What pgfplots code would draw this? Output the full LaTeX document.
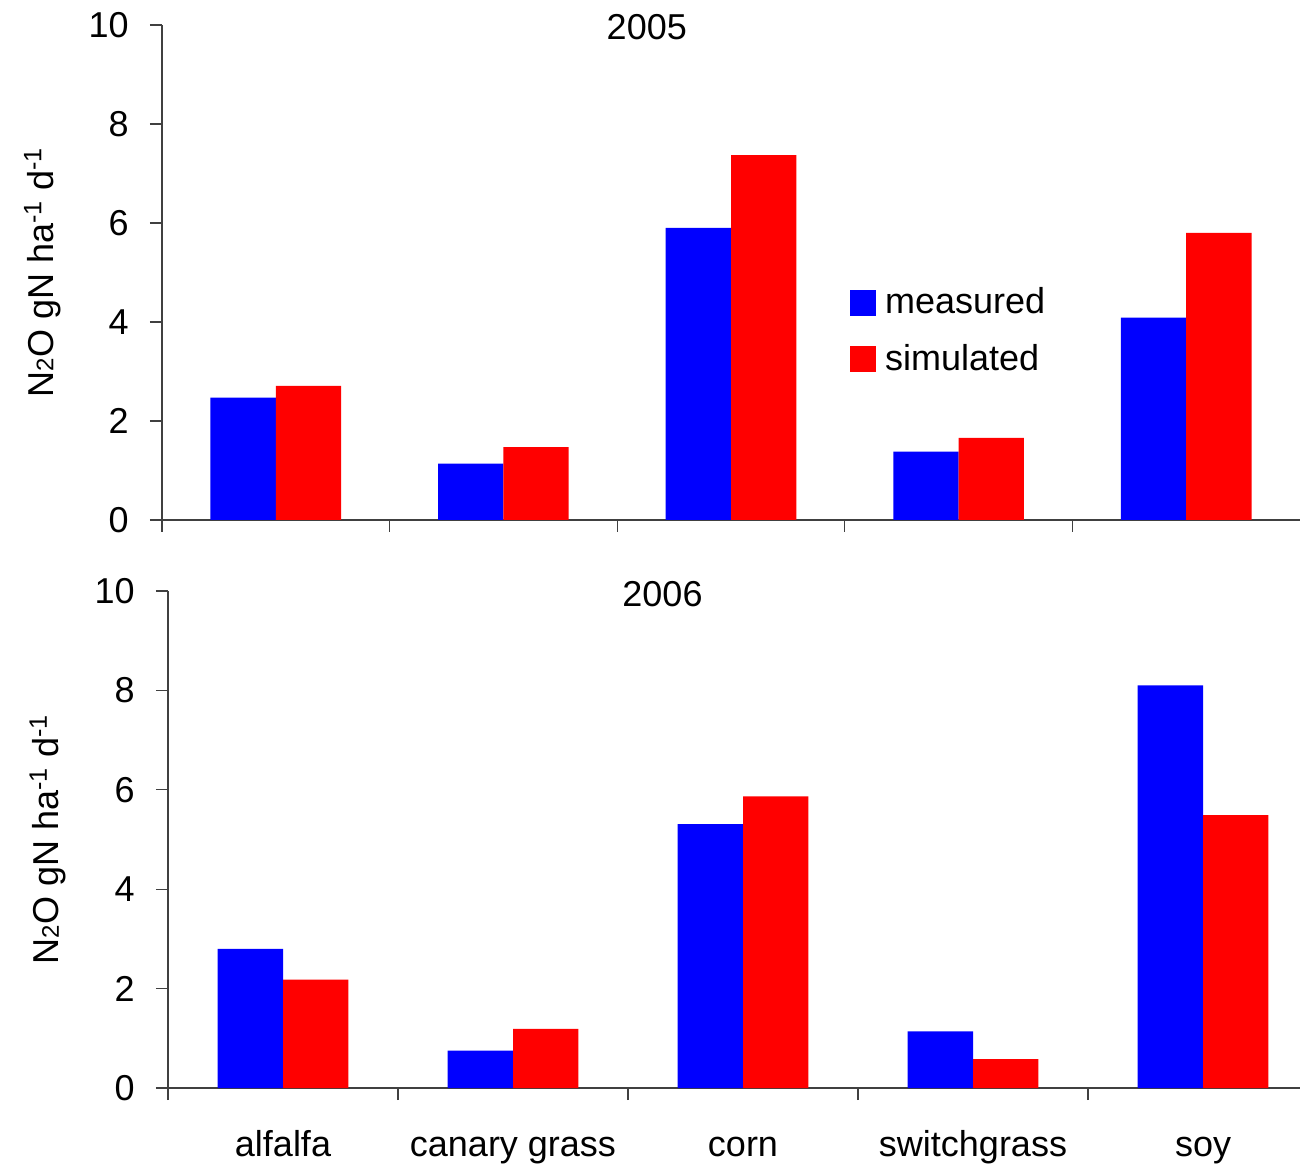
\documentclass[border=0pt]{standalone}
\usepackage{fontspec}
\setmainfont{Liberation Sans}
\usepackage{pgfplots}
\usepackage{pgfplotstable}
\pgfplotsset{compat=1.18}
\definecolor{mblue}{RGB}{0,0,255}
\definecolor{mred}{RGB}{255,0,0}
\newcommand{\bigf}{\fontsize{27}{30}\selectfont}
\pgfplotstableread{
x meas sim
0 2.47 2.71
1 1.14 1.47
2 5.90 7.37
3 1.38 1.66
4 4.09 5.80
}\tabA
\pgfplotstableread{
x meas sim
0 2.80 2.18
1 0.75 1.19
2 5.31 5.87
3 1.14 0.58
4 8.10 5.49
}\tabB
\pgfplotsset{
  panel/.style={
    scale only axis,
    ybar=0pt, bar width=49pt,
    ymin=0, ymax=10, ytick={0,2,...,10},
    xmin=-0.5,
    axis x line*=bottom, axis y line*=left,
    axis line style={black!75, line width=1pt, -},
    tick align=outside,
    major tick length=9pt, minor tick length=9pt,
    tick style={black!75, line width=1pt},
    xtick={0,1,2,3,4},
    minor xtick={-0.5,0.5,1.5,2.5,3.5},
    major x tick style={draw=none},
    ticklabel style={font=\bigf},
    yticklabel style={xshift=-12.5pt},
    xticklabel style={anchor=base, yshift=-42pt},
    /pgf/number format/assume math mode=true,
    ylabel={N{\fontsize{18}{18}\selectfont 2}O gN ha\textsuperscript{-1} d\textsuperscript{-1}},
    ylabel style={font=\bigf, at={(axis description cs:-0.105,0.5)}, anchor=center},
    clip=false,
  }
}
\begin{document}
\begin{tikzpicture}
\useasboundingbox (0,0) rectangle (975pt,873.75pt);
\begin{axis}[panel, at={(121.5pt,483.75pt)}, anchor=south west,
  width=853.5pt, height=371.25pt, xmax=4.5, xticklabels={},
  legend cell align=left,
  legend image code/.code={\fill[#1] (0pt,-8.35pt) rectangle (19.5pt,11.15pt);},
  legend style={draw=none, fill=none, at={(axis cs:2.523,4.705)}, anchor=north west,
    inner sep=0pt, outer sep=0pt, row sep=16.4pt, column sep=6.75pt, font=\bigf,
    nodes={inner sep=0pt, text height=20pt, text depth=6pt}}]
\addplot[fill=mblue, draw=none] table[x=x,y=meas]{\tabA};
\addplot[fill=mred, draw=none] table[x=x,y=sim]{\tabA};
\legend{measured, simulated}
\node[font=\bigf] at (axis cs:1.63,9.96) {2005};
\end{axis}
\begin{axis}[panel, at={(126pt,57.75pt)}, anchor=south west,
  width=849pt, height=372.75pt, xmax=4.4217,
  xticklabels={alfalfa, canary grass, corn, switchgrass, soy},
  ylabel style={at={(axis description cs:-0.106,0.5)}}]
\addplot[fill=mblue, draw=none] table[x=x,y=meas]{\tabB};
\addplot[fill=mred, draw=none] table[x=x,y=sim]{\tabB};
\node[font=\bigf] at (axis cs:1.65,9.94) {2006};
\end{axis}
\end{tikzpicture}
\end{document}
